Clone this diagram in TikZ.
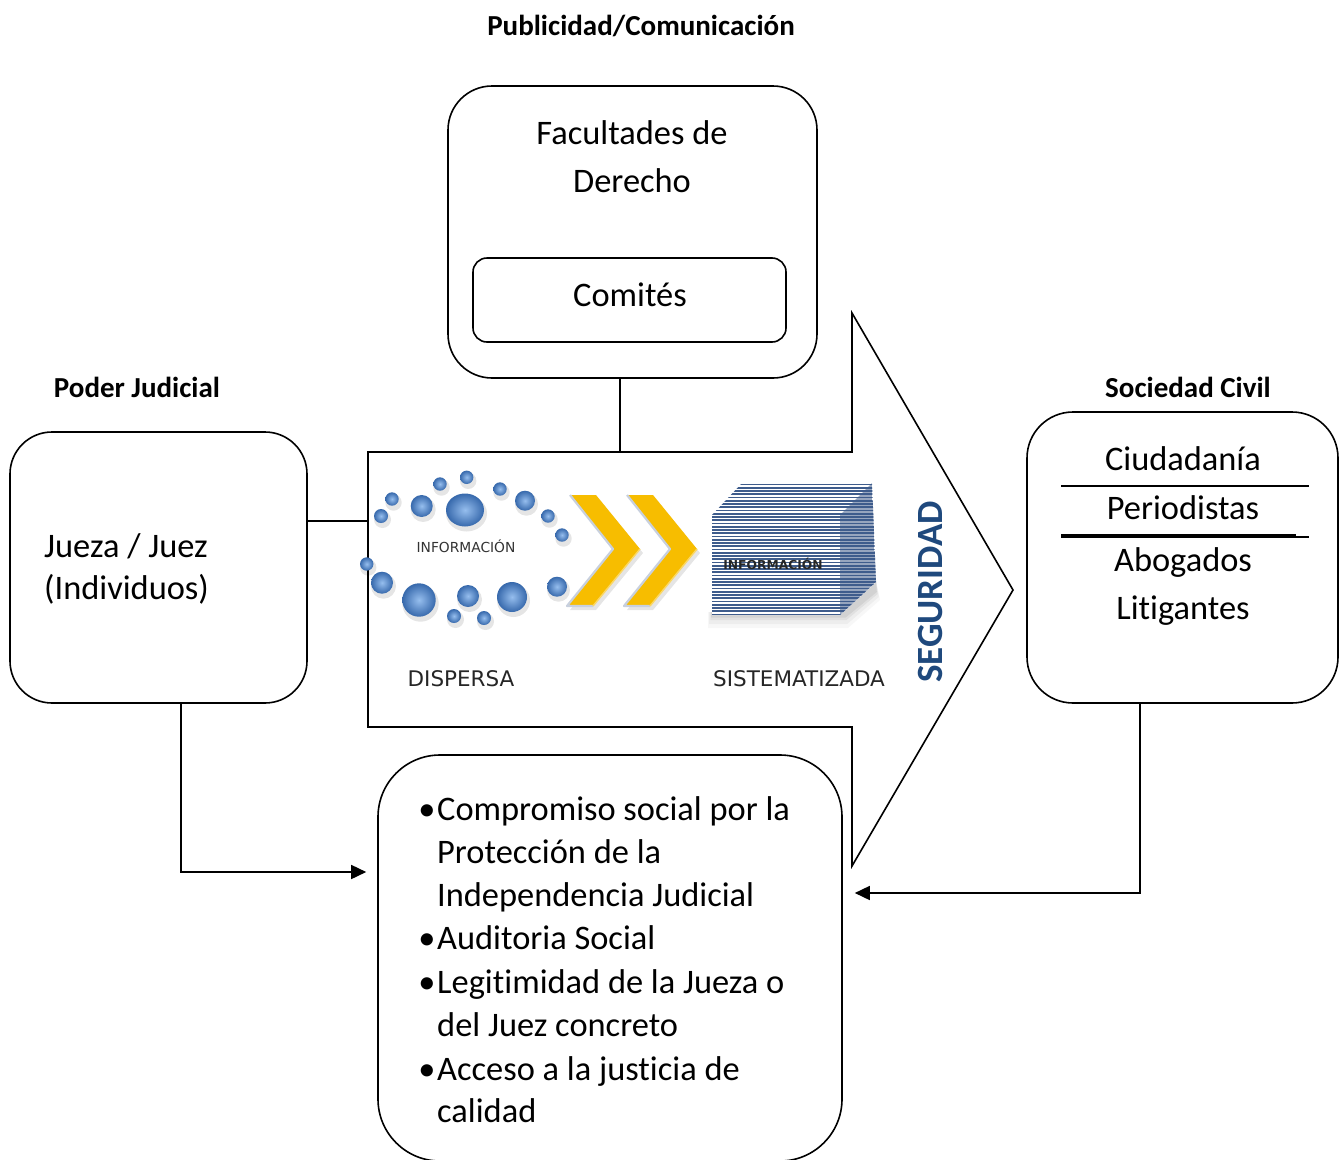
\documentclass[tikz,border=0pt]{standalone}
\usepackage{fontspec}
\setmainfont{Carlito}[Ligatures=NoCommon]
\newfontfamily\dvsans{DejaVu Sans}
\usetikzlibrary{arrows.meta}
\definecolor{sphin}{RGB}{150,190,238}
\definecolor{sphout}{RGB}{55,105,172}
\definecolor{gold}{RGB}{247,189,0}
\definecolor{segblue}{RGB}{31,73,125}
\definecolor{stripe}{RGB}{62,92,140}
\definecolor{sideface}{RGB}{150,165,190}
\definecolor{hilite}{RGB}{200,208,222}
\begin{document}
\begin{tikzpicture}[x=1pt,y=-1pt,
  rbox/.style={draw, line width=1.6pt, fill=white, inner sep=0pt},
  conn/.style={draw, line width=1.6pt},
  arr/.style={conn, -{Triangle[length=15pt,width=14pt]}},
  big/.style={font=\fontsize{34.4}{40}\selectfont, inner sep=0pt},
  lab/.style={font=\bfseries\fontsize{29}{34}\selectfont, inner sep=0pt},
  small/.style={font=\dvsans\fontsize{21.5}{24}\selectfont, text=black!85, inner sep=0pt},
  chev/.style={fill=gold},
  sphere/.style={inner color=sphin, outer color=sphout},
  stripeline/.style={draw=stripe, line width=1.7pt}
]
\useasboundingbox (0,0) rectangle (1341,1159);
\fill[white] (0,0) rectangle (1341,1159);

% ---- big arrow
\draw[line width=1.6pt, fill=white] (368,452) -- (852,452) -- (852,313) -- (1013,590) -- (852,866) -- (852,727) -- (368,727) -- cycle;
\coordinate (atop) at (620,452);
\coordinate (aleft) at (368,521);

% ---- boxes
\node[rbox, minimum width=369pt, minimum height=292pt, rounded corners=44pt] (fac) at (632.5,232) {};
\node[rbox, minimum width=313pt, minimum height=84pt, rounded corners=14pt] (com) at (629.5,300) {};
\node[rbox, minimum width=297pt, minimum height=271pt, rounded corners=42pt] (jue) at (158.5,567.5) {};
\node[rbox, minimum width=311pt, minimum height=291pt, rounded corners=46pt] (soc) at (1182.5,557.5) {};
\node[rbox, minimum width=464pt, minimum height=406pt, rounded corners=62pt] (comp) at (610,958) {};

% ---- connectors
\coordinate (lp) at (181,872);
\coordinate (rp) at (1140,893);
\draw[conn] (atop |- fac.south) -- (atop);
\draw[conn] (jue.east |- aleft) -- (aleft);
\draw[arr] (lp |- jue.south) -- (lp) -- ([xshift=-11pt]comp.west |- lp);
\draw[arr] (rp |- soc.south) -- (rp) -- ([xshift=12pt]comp.east |- rp);

% ---- headings
\node[lab, anchor=base] (pub) at (641,35) {Publicidad/Comunicación};
\node[lab, anchor=base] (pj) at (137,397) {Poder Judicial};
\node[lab, anchor=base] (sc) at (1188,397) {Sociedad Civil};

% ---- texts in boxes
\node[big, anchor=base] (t1) at (632,144) {Facultades de};
\node[big, anchor=base] (t2) at (632,192) {Derecho};
\node[big, anchor=base] (t3) at (630,306) {Comités};
\node[big, anchor=base west] (t4) at (44,557) {Jueza / Juez};
\node[big, anchor=base west] (t5) at (44,599) {(Individuos)};
\node[big, anchor=base] (r1) at (1183,470) {Ciudadanía};
\node[big, anchor=base] (r2) at (1183,519) {Periodistas};
\node[big, anchor=base] (r3) at (1183,571) {Abogados};
\node[big, anchor=base] (r4) at (1183,619) {Litigantes};
\draw[line width=1.5pt] (1061,486) -- (1309,486);
\draw[line width=1.5pt] (1061,535) -- (1296,535);
\draw[line width=1.5pt] (1061,537) -- (1309,537);

\foreach \t/\yy [count=\i] in {{Compromiso social por la}/820, {Protección de la}/863, {Independencia Judicial}/906, {Auditoria Social}/949, {Legitimidad de la Jueza o}/993, {del Juez concreto}/1036, {Acceso a la justicia de}/1080, {calidad}/1122}
  \node[big, anchor=base west] (bl\i) at (437,\yy) {\t};
\foreach \yy [count=\i] in {820, 949, 993, 1080}
  \node[big, anchor=base] (bu\i) at (427,\yy) {•};

% ---- dispersed information (spheres)
\foreach \x/\y/\r in {466.7/477.3/6.7, 440/484/6.7, 421.7/506/11, 392/499/6.7, 381/516/7,
  500/489/6.7, 525/500.7/10, 548/516/6.7, 562/535/6.7, 366.7/564/6.7, 382/582.7/11,
  419/600/16.7, 468/596/11, 454/616/7, 484/618/7, 512/597/15, 557/586.7/10}{
  \fill[black, opacity=0.10] (\x+1.5,\y+3.5) circle (\r+1.5);
  \shade[sphere] (\x,\y) circle (\r);
}
\fill[black, opacity=0.10] (466.5,513.5) ellipse (20.5 and 18);
\shade[sphere] (465,510) ellipse (19 and 16.5);
\node[font=\dvsans\fontsize{13.8}{15}\selectfont, text=black!80, inner sep=0pt] (info1) at (466,546) {INFORMACIÓN};

% ---- chevrons
\foreach \dx in {0,57}{
  \fill[black, opacity=0.10] (573+\dx,499) -- (599+\dx,499) -- (643+\dx,553) -- (596+\dx,610) -- (570+\dx,610) -- (616+\dx,553) -- cycle;
  \fill[chev] (570+\dx,495) -- (596+\dx,495) -- (640+\dx,549) -- (593+\dx,606) -- (567+\dx,606) -- (613+\dx,549) -- cycle;
  \draw[hilite, line width=2.2pt, line join=round] (570+\dx,495) -- (613+\dx,549) -- (567+\dx,606) -- (593+\dx,606);
  \draw[gold!60!white, line width=1.5pt] (640+\dx,549) -- (593+\dx,606);
}

% ---- systematized information (striped block)
\foreach \o/\a in {10/0.03, 7/0.04, 4/0.05, 2/0.06}{
  \fill[black, opacity=\a] (712-\o*0.4,612) -- (840,612) -- (876,580) -- (876+\o*0.4,590+\o) -- (845+\o*0.3,615+\o*1.3) -- (712-\o*0.4,615+\o*1.3) -- cycle;
}
\begin{scope}
  \clip (712,515) -- (742,483) -- (872,483) -- (876,582) -- (840,615) -- (712,615) -- cycle;
  \fill[white] (700,478) rectangle (882,620);
  \fill[sideface] (840,515) -- (872,483) -- (876,582) -- (840,615) -- cycle;
  \foreach \k in {0,...,40}
    \draw[stripeline] (700,484.5+\k*3.25) -- (882,484.5+\k*3.25);
\end{scope}
\node[font=\dvsans\bfseries\fontsize{12.3}{14}\selectfont, text=black!85, inner sep=0pt] (info2) at (773,564) {INFORMACIÓN};

% ---- captions
\node[small] (disp) at (461,679) {DISPERSA};
\node[small] (sist) at (799,679) {SISTEMATIZADA};
\node[font=\bfseries\fontsize{37}{40}\selectfont, text=segblue, rotate=90, inner sep=0pt] (seg) at (930,592) {SEGURIDAD};
\end{tikzpicture}
\end{document}
